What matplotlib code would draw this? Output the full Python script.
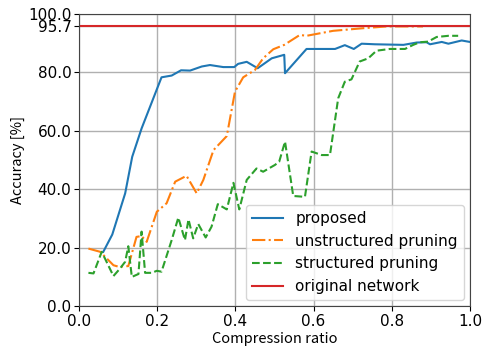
import matplotlib
matplotlib.use("Agg")
import matplotlib.pyplot as plt
from matplotlib.ticker import FormatStrFormatter

# proposed
prop_x = [0.062, 0.085, 0.118, 0.136, 0.160, 0.211, 0.237, 0.261, 0.284, 0.314, 0.335, 0.369,
          0.397, 0.407, 0.429, 0.457, 0.493, 0.525, 0.527, 0.582, 0.655, 0.680, 0.703, 0.723,
          0.757, 0.830, 0.864, 0.889, 0.898, 0.928, 0.945, 0.979, 1.0]
prop_y = [18.6, 24.5, 38.6, 51.1, 60.8, 78.3, 78.9, 80.7, 80.6, 82.0, 82.5, 81.8,
          81.8, 82.9, 83.6, 81.4, 84.8, 86.0, 79.7, 88.0, 88.0, 89.3, 88.0, 89.8,
          89.6, 89.4, 90.2, 90.3, 89.6, 90.4, 89.8, 90.9, 90.4]

# unstructured pruning
uns_x = [0.024, 0.054, 0.088, 0.101, 0.126, 0.147, 0.160, 0.173, 0.199, 0.224, 0.246, 0.275,
         0.301, 0.318, 0.344, 0.378, 0.399, 0.420, 0.450, 0.471, 0.497, 0.525, 0.565, 0.582,
         0.650, 0.727, 0.787, 0.830, 0.880]
uns_y = [19.7, 18.6, 14.0, 13.5, 13.7, 23.7, 24.0, 22.0, 32.3, 35.2, 42.6, 44.6,
         38.6, 43.2, 53.4, 58.2, 73.4, 78.3, 80.8, 84.8, 87.9, 89.4, 92.8, 92.5,
         94.2, 95.1, 95.7, 95.7, 95.7]

# structured pruning
str_x = [0.024, 0.037, 0.058, 0.088, 0.105, 0.118, 0.126, 0.135, 0.152, 0.160, 0.169, 0.186,
         0.199, 0.211, 0.237, 0.254, 0.271, 0.280, 0.292, 0.305, 0.324, 0.339, 0.355, 0.378,
         0.395, 0.410, 0.429, 0.454, 0.471, 0.501, 0.512, 0.527, 0.548, 0.578, 0.595, 0.621,
         0.642, 0.663, 0.680, 0.697, 0.718, 0.740, 0.761, 0.795, 0.834, 0.855, 0.872, 0.893,
         0.915, 0.945, 0.970]
str_y = [11.4, 11.2, 18.6, 10.3, 12.9, 15.2, 20.5, 10.0, 11.0, 25.5, 11.4, 11.4,
         12.1, 11.8, 22.6, 30.3, 22.6, 29.7, 23.2, 28.1, 23.5, 27.2, 34.9, 33.1,
         42.2, 33.1, 43.2, 47.1, 46.0, 48.3, 49.4, 56.3, 37.7, 37.4, 52.9, 51.7,
         51.7, 71.1, 76.8, 77.6, 83.7, 84.8, 87.4, 88.0, 88.0, 89.4, 90.3, 90.5,
         92.1, 92.5, 92.5]

original_acc = 95.7
yticks = [0.0, 20.0, 40.0, 60.0, 80.0, 95.7, 100.0]
xticks = [0.0, 0.2, 0.4, 0.6, 0.8, 1.0]

fig = plt.figure(figsize=(4.91, 3.56), dpi=100)
ax = fig.add_axes([0.161, 0.140, 0.796, 0.821])

ax.plot(prop_x, prop_y, color="C0", linestyle="-", lw=1.5, label="proposed")
ax.plot(uns_x, uns_y, color="C1", linestyle="-.", lw=1.5, label="unstructured pruning")
ax.plot(str_x, str_y, color="C2", linestyle="--", lw=1.5, label="structured pruning")
ax.axhline(original_acc, color="C3", lw=1.5, label="original network")

ax.set_xlim(0, 1.0)
ax.set_ylim(0, 100)
ax.set_xticks(xticks)
ax.set_yticks(yticks)
ax.yaxis.set_major_formatter(FormatStrFormatter("%.1f"))
ax.xaxis.set_major_formatter(FormatStrFormatter("%.1f"))
ax.grid(True, color="#b0b0b0", lw=1.0)
ax.tick_params(labelsize=11, pad=2)
for s in ax.spines.values():
    s.set_color("#444444")
ax.set_xlabel("Compression ratio", fontsize=10.5, family=["Noto Sans CJK JP", "DejaVu Sans"], labelpad=2)
ax.set_ylabel("Accuracy [%]", fontsize=10.5, family=["Noto Sans CJK JP", "DejaVu Sans"], labelpad=2)
ax.legend(loc="lower right", fontsize=11, borderaxespad=0.4)

fig.savefig("out.png", dpi=100)
